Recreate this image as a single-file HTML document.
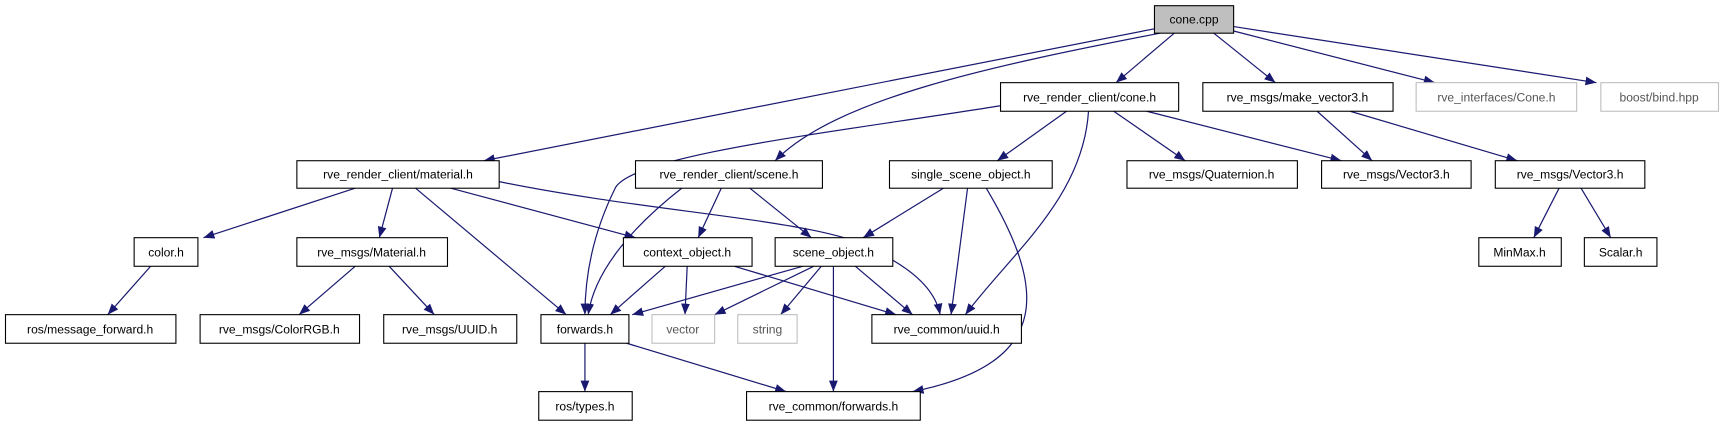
<!DOCTYPE html>
<html><head><meta charset="utf-8"><style>html,body{margin:0;padding:0;background:#fff}svg{display:block}</style></head>
<body>
<svg width="1724" height="427" viewBox="0 0 1568 388" xmlns="http://www.w3.org/2000/svg" font-family="Liberation Sans, DejaVu Sans, sans-serif" font-size="11">
<defs><marker id="a" markerWidth="10" markerHeight="8" refX="10" refY="4" orient="auto" markerUnits="userSpaceOnUse"><path d="M0,0 L10,4 L0,8 z" fill="#191970"/></marker></defs>
<g stroke="#191970" stroke-width="1.1" fill="none" marker-end="url(#a)">
<line x1="1050" y1="26" x2="440" y2="146"/>
<path d="M1055,30 C900,60 760,90 705,146"/>
<line x1="1068" y1="30" x2="1015" y2="75"/>
<line x1="1104" y1="30" x2="1160" y2="75"/>
<line x1="1122" y1="28" x2="1305" y2="75"/>
<line x1="1122" y1="24" x2="1452" y2="75"/>
<path d="M910,96 C760,120 580,140 560,170 C540,210 532,250 532,286"/>
<line x1="970" y1="101" x2="907" y2="146"/>
<line x1="1013" y1="101" x2="1078" y2="146"/>
<line x1="1043" y1="101" x2="1220" y2="146"/>
<path d="M990,101 C985,180 920,230 878,286"/>
<line x1="1198" y1="101" x2="1248" y2="146"/>
<line x1="1228" y1="101" x2="1380" y2="146"/>
<line x1="323" y1="171" x2="185" y2="216"/>
<line x1="357" y1="171" x2="345" y2="216"/>
<line x1="378" y1="171" x2="515" y2="286"/>
<line x1="410" y1="171" x2="578" y2="216"/>
<path d="M454,165 C600,195 760,200 800,230 C840,250 852,270 855,286"/>
<path d="M620,171 C570,210 540,250 535,286"/>
<line x1="656" y1="171" x2="635" y2="216"/>
<line x1="682" y1="171" x2="738" y2="216"/>
<line x1="858" y1="171" x2="785" y2="216"/>
<line x1="880" y1="171" x2="865" y2="286"/>
<path d="M897,171 C950,260 960,330 830,356"/>
<line x1="1418" y1="171" x2="1395" y2="216"/>
<line x1="1438" y1="171" x2="1465" y2="216"/>
<line x1="137" y1="242" x2="98" y2="286"/>
<line x1="323" y1="242" x2="272" y2="286"/>
<line x1="354" y1="242" x2="395" y2="286"/>
<line x1="605" y1="242" x2="555" y2="286"/>
<line x1="625" y1="242" x2="623" y2="286"/>
<line x1="668" y1="242" x2="815" y2="286"/>
<line x1="730" y1="242" x2="575" y2="286"/>
<line x1="740" y1="242" x2="650" y2="286"/>
<line x1="747" y1="242" x2="710" y2="286"/>
<line x1="758" y1="242" x2="758" y2="356"/>
<line x1="778" y1="242" x2="830" y2="286"/>
<line x1="532" y1="312" x2="532" y2="356"/>
<line x1="570" y1="312" x2="715" y2="356"/>
</g>
<g stroke="#000" stroke-width="1" fill="#fff">
<rect x="1050" y="5" width="72" height="25" fill="#bfbfbf"/>
<rect x="910" y="75" width="162" height="26"/>
<rect x="1094" y="75" width="173" height="26"/>
<rect x="1288" y="75" width="146" height="26" stroke="#bfbfbf"/>
<rect x="1456" y="75" width="107" height="26" stroke="#bfbfbf"/>
<rect x="270" y="146" width="184" height="25"/>
<rect x="578" y="146" width="170" height="25"/>
<rect x="809" y="146" width="148" height="25"/>
<rect x="1025" y="146" width="155" height="25"/>
<rect x="1202" y="146" width="136" height="25"/>
<rect x="1360" y="146" width="136" height="25"/>
<rect x="122" y="216" width="58" height="26"/>
<rect x="270" y="216" width="137" height="26"/>
<rect x="567" y="216" width="117" height="26"/>
<rect x="705" y="216" width="107" height="26"/>
<rect x="1345" y="216" width="75" height="26"/>
<rect x="1441" y="216" width="66" height="26"/>
<rect x="5" y="286" width="155" height="26"/>
<rect x="182" y="286" width="145" height="26"/>
<rect x="349" y="286" width="121" height="26"/>
<rect x="492" y="286" width="80" height="26"/>
<rect x="593" y="286" width="57" height="26" stroke="#bfbfbf"/>
<rect x="671" y="286" width="54" height="26" stroke="#bfbfbf"/>
<rect x="793" y="286" width="136" height="26"/>
<rect x="490" y="356" width="85" height="26"/>
<rect x="679" y="356" width="158" height="26"/>
</g>
<g fill="#000" text-anchor="middle">
<text x="1086" y="21">cone.cpp</text>
<text x="991" y="92">rve_render_client/cone.h</text>
<text x="1180" y="92">rve_msgs/make_vector3.h</text>
<text x="1361" y="92" fill="#555">rve_interfaces/Cone.h</text>
<text x="1509" y="92" fill="#555">boost/bind.hpp</text>
<text x="362" y="162">rve_render_client/material.h</text>
<text x="663" y="162">rve_render_client/scene.h</text>
<text x="883" y="162">single_scene_object.h</text>
<text x="1102" y="162">rve_msgs/Quaternion.h</text>
<text x="1270" y="162">rve_msgs/Vector3.h</text>
<text x="1428" y="162">rve_msgs/Vector3.h</text>
<text x="151" y="233">color.h</text>
<text x="338" y="233">rve_msgs/Material.h</text>
<text x="625" y="233">context_object.h</text>
<text x="758" y="233">scene_object.h</text>
<text x="1382" y="233">MinMax.h</text>
<text x="1474" y="233">Scalar.h</text>
<text x="82" y="303">ros/message_forward.h</text>
<text x="254" y="303">rve_msgs/ColorRGB.h</text>
<text x="409" y="303">rve_msgs/UUID.h</text>
<text x="532" y="303">forwards.h</text>
<text x="621" y="303" fill="#555">vector</text>
<text x="698" y="303" fill="#555">string</text>
<text x="861" y="303">rve_common/uuid.h</text>
<text x="532" y="373">ros/types.h</text>
<text x="758" y="373">rve_common/forwards.h</text>
</g>
</svg>
</body></html>
